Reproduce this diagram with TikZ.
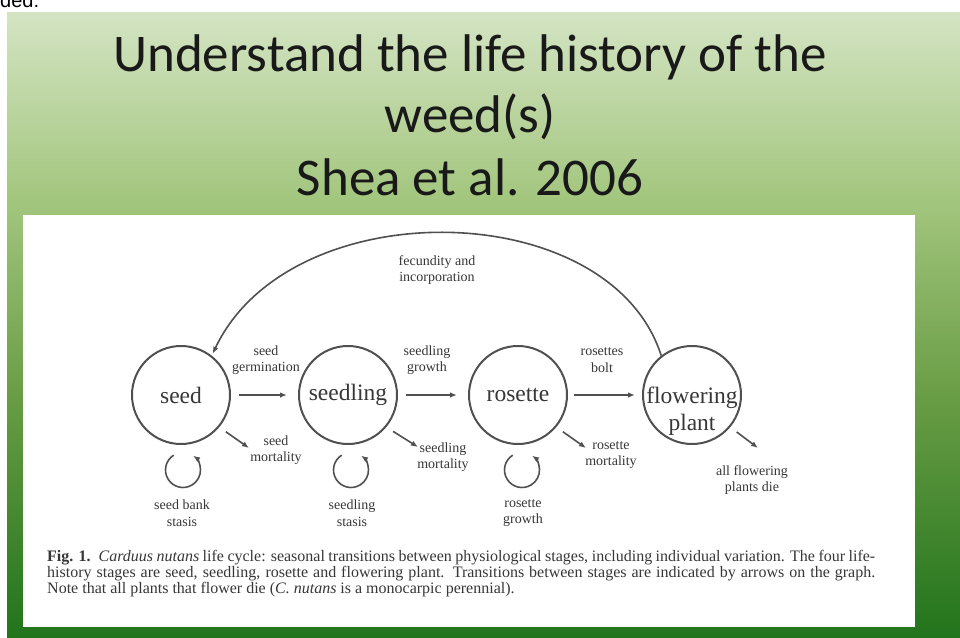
\documentclass[tikz,border=0pt]{standalone}
\usepackage{fontspec}
\setmainfont{Liberation Serif}
\newfontfamily\titlefont{Carlito}
\newfontfamily\slidesans{Liberation Sans}
\usetikzlibrary{arrows.meta,calc}
\definecolor{topg}{RGB}{212,228,195}
\definecolor{midg}{RGB}{163,198,126}
\definecolor{lowg}{RGB}{104,156,68}
\definecolor{botg}{RGB}{34,116,28}
\definecolor{linec}{RGB}{80,80,80}
\definecolor{txt}{RGB}{55,55,55}
\pgfdeclareverticalshading{slidebg}{100bp}{color(0bp)=(botg); color(25bp)=(botg); color(44bp)=(lowg); color(60bp)=(midg); color(75bp)=(topg); color(100bp)=(topg)}
\begin{document}
\begin{tikzpicture}[x=1pt,y=-1pt,
  stage/.style={circle, draw=linec, line width=2pt, minimum size=98pt, inner sep=0pt,
    font=\fontsize{23.5}{27}\selectfont, text=txt},
  lbl/.style={align=center, font=\fontsize{14}{16.5}\selectfont, text=txt, inner sep=0pt},
  captext/.style={font=\fontsize{16}{16}\selectfont, text=txt, inner sep=0pt, anchor=base west},
  ttl/.style={font=\titlefont\fontsize{53}{60}\selectfont, text=black!90, inner sep=0pt, anchor=base},
  arr/.style={-{Latex[length=7pt,width=5.5pt]}, line width=1.6pt, draw=linec}]
\useasboundingbox (0,0) rectangle (960,637);
\fill[white] (0,0) rectangle (960,637);
\begin{scope}
  \clip (0,0) rectangle (960,12);
  \node[font=\slidesans\fontsize{20}{20}\selectfont, anchor=base west, inner sep=0pt] (prev) at (0,7) {ded.};
\end{scope}
\shade[shading=slidebg] (7,12) rectangle (960,637);
\fill[white] (23,215) rectangle (915,627);
% title
\node[ttl] (t1) at (470,71) {Understand the life history of the};
\node[ttl] (t2) at (470,132) {weed(s)};
\node[ttl] (t3) at (470,195) {Shea et al. 2006};
% stages
\node[stage] (seed) at (181,395) {seed};
\node[stage] (seedling) at (348,395) {seedling};
\node[stage] (rosette) at (518,395) {rosette};
\node[stage] (flow) at (692,395) {\raisebox{-8pt}[0pt][0pt]{\begin{tabular}[t]{@{}c@{}}flowering\\plant\end{tabular}}};
% transitions
\draw[arr, shorten <=8pt, shorten >=11pt] (seed) -- (seedling);
\draw[arr, shorten <=8pt, shorten >=11pt] (seedling) -- (rosette);
\draw[arr, shorten <=6pt, shorten >=7pt] (rosette) -- (flow);
\draw[arr, shorten >=2pt] (flow.128) .. controls (610,195) and (290,190) .. (seed.52);
% mortality
\coordinate (sm) at (249,448);
\coordinate (dm) at (418,447);
\coordinate (rm) at (586,448);
\coordinate (fm) at (758,448);
\draw[arr, shorten <=8pt] (seed.-40) -- (sm);
\draw[arr, shorten <=8pt] (seedling.-40) -- (dm);
\draw[arr, shorten <=8pt] (rosette.-40) -- (rm);
\draw[arr, shorten <=8pt] (flow.-40) -- (fm);
% loops
\coordinate (l1) at (183,470);
\coordinate (l2) at (351,470);
\coordinate (l3) at (522,470);
\foreach \c in {l1,l2,l3}{
  \draw[arr] ([shift={(-122:17.5)}]\c) arc[start angle=-122, end angle=-415, radius=17.5];
}
% labels
\node[lbl] (fec) at (437,270) {fecundity and\\incorporation};
\node[lbl] (germ) at (266,360) {seed\\germination};
\node[lbl] (sgro) at (427,360) {seedling\\growth};
\node[lbl] (bolt) at (602,360) {rosettes\\bolt};
\node[lbl] (smort) at (276,450) {seed\\mortality};
\node[lbl] (dmort) at (443,457) {seedling\\mortality};
\node[lbl] (rmort) at (611,455) {rosette\\mortality};
\node[lbl] (fdie) at (752,480) {all flowering\\plants die};
\node[lbl] (bank) at (182,513) {seed bank\\stasis};
\node[lbl] (dsta) at (352,513) {seedling\\stasis};
\node[lbl] (rgro) at (523,513) {rosette\\growth};
% caption
\node[captext] (c1) at (47,561) {\makebox[828pt][s]{\textbf{Fig. 1.}\enspace \textit{Carduus nutans} life cycle: seasonal transitions between physiological stages, including individual variation. The four life-}};
\node[captext] (c2) at (47,577) {\makebox[828pt][s]{history stages are seed, seedling, rosette and flowering plant. Transitions between stages are indicated by arrows on the graph.}};
\node[captext] (c3) at (47,593) {Note that all plants that flower die (\textit{C. nutans} is a monocarpic perennial).};
\end{tikzpicture}
\end{document}
